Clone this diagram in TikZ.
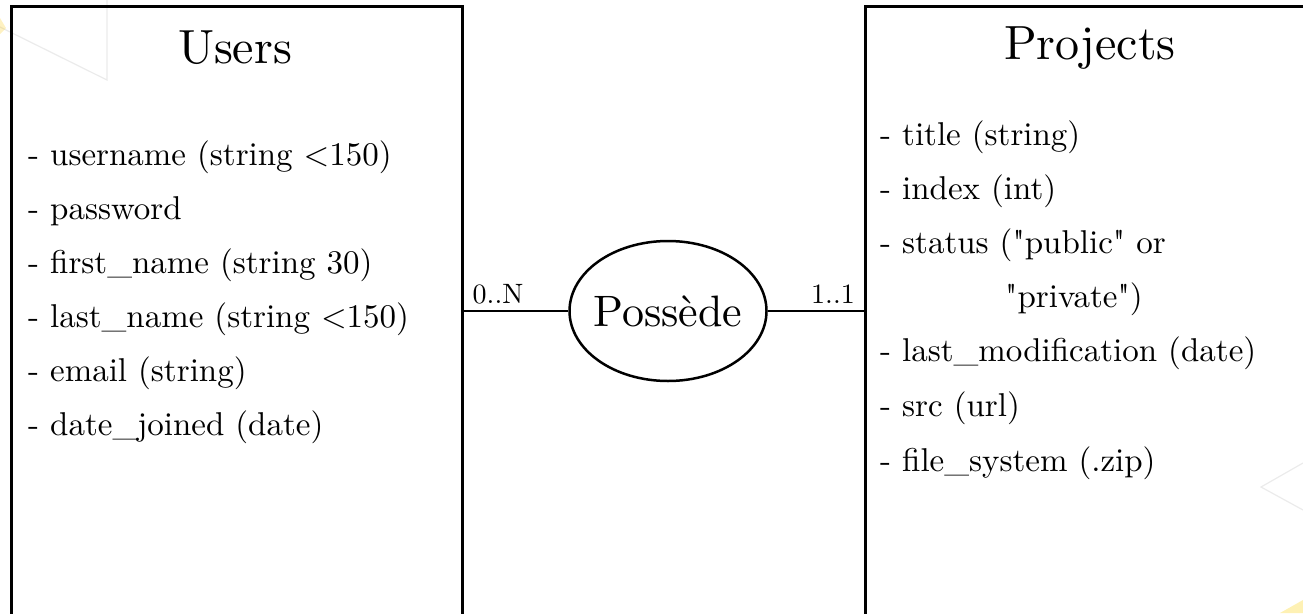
\documentclass[tikz,border=0pt]{standalone}
\usepackage{fontspec}
\setmainfont{lmroman10-regular.otf}[Ligatures=TeXOff]
\usetikzlibrary{shapes.geometric}
\begin{document}
\begin{tikzpicture}[x=1pt,y=-1pt,
  entity/.style={draw=black, line width=3pt, anchor=north west, inner sep=0pt},
  title/.style={font=\fontsize{48}{56}\selectfont, inner sep=0pt},
  attr/.style={font=\fontsize{33}{38}\selectfont, anchor=west, inner sep=0pt},
  rel/.style={draw=black, ellipse, line width=2.5pt, minimum width=197pt, minimum height=140pt, inner xsep=-12pt, inner ysep=0pt, font=\fontsize{44}{50}\selectfont},
  link/.style={draw=black, line width=2.5pt},
  card/.style={font=\fontsize{28}{32}\selectfont, inner sep=0pt, anchor=base},
  deco/.style={draw=black!8, line width=1.2pt}]
\useasboundingbox (0,0) rectangle (1303,613);
\clip (0,0) rectangle (1303,613);
% background decorations
\draw[deco] (0,27) -- (107,80) -- (107,0);
\fill[yellow!60!orange, opacity=0.25] (0,18) -- (6,28) -- (0,34) -- cycle;
\draw[deco] (1303,463) -- (1261,487) -- (1303,510);
\fill[yellow!70!orange, opacity=0.3] (1280,613) -- (1303,600) -- (1303,613) -- cycle;
% entities
\node[entity, minimum width=451pt, minimum height=640pt] (users) at (10,5) {};
\node[entity, minimum width=460pt, minimum height=640pt] (projects) at (864,5) {};
\node[title] (userstitle) at (235,48) {Users};
\node[title] (projtitle) at (1090,48) {Projects};
% users attributes
\node[attr] (u1) at (28,157) {- username (string <150)};
\node[attr] (u2) at (28,211) {- password};
\node[attr] (u3) at (28,265) {- first\_name (string 30)};
\node[attr] (u4) at (28,319) {- last\_name (string <150)};
\node[attr] (u5) at (28,373) {- email (string)};
\node[attr] (u6) at (28,427) {- date\_joined (date)};
% projects attributes
\node[attr] (p1) at (880,137) {- title (string)};
\node[attr] (p2) at (880,191) {- index (int)};
\node[attr] (p3) at (880,245) {- status ("public" or};
\node[attr] (p3b) at (1005,299) {"private")};
\node[attr] (p4) at (880,353) {- last\_modification (date)};
\node[attr] (p5) at (880,408) {- src (url)};
\node[attr] (p6) at (880,463) {- file\_system (.zip)};
% relation
\node[rel] (possede) at (668,311) {Possède};
\draw[link] (possede.west) -- (possede.west -| users.east);
\draw[link] (possede.east) -- (possede.east -| projects.west);
\node[card] (c1) at (498,303) {0..N};
\node[card] (c2) at (833,303) {1..1};
\end{tikzpicture}
\end{document}
